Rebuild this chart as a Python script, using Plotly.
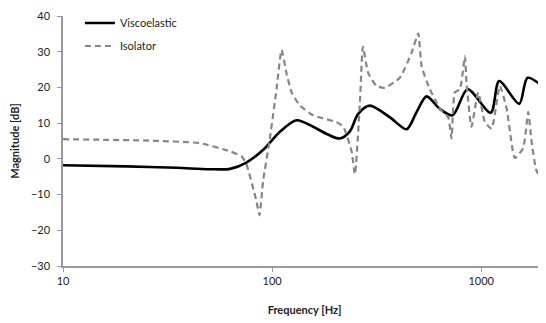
import plotly.graph_objects as go

# Viscoelastic (solid) curve
visco_f = [10, 20, 35, 50, 63, 75, 91, 109, 131, 157, 185, 211, 235, 258, 293,
           365, 440, 491, 548, 634, 730, 861, 1111, 1219, 1521, 1667, 2042]
visco_db = [-1.8, -2.1, -2.5, -2.9, -2.8, -1.1, 2.6, 7.6, 10.8, 9.0, 6.8, 5.7, 7.6, 12.6, 14.9,
            11.7, 8.3, 13.1, 17.5, 14.0, 12.2, 19.5, 12.9, 21.8, 15.4, 22.7, 19.5]

# Isolator (dashed) curve
iso_f = [10, 26, 45, 63, 71.5, 75, 84, 87, 90.6, 97.6, 105, 111, 117, 124, 136, 157, 203,
         219, 240, 249, 263, 272, 288, 316, 346, 408, 464, 500, 519, 568, 612, 634, 695,
         721, 748, 791, 836, 851, 899, 968, 1042, 1122, 1228, 1324, 1449, 1588, 1679,
         1742, 1841, 2018]
iso_db = [5.5, 5.1, 4.4, 2.1, 0.7, -1.1, -11.6, -15.8, -6.2, 5.7, 19.5, 30.5, 24.1, 18.6,
          14.9, 12.2, 10.3, 9.0, 2.1, -4.3, 15.8, 31.4, 24.1, 20.4, 19.9, 22.7, 29.6, 35.1,
          25.9, 19.5, 15.8, 14.0, 11.7, 5.7, 18.6, 19.5, 28.7, 21.3, 9.0, 18.6, 10.3, 8.5,
          20.4, 14.0, 0.25, 3.0, 13.1, 4.8, -3.4, -6.6]

y_ticks = [-30, -20, -10, 0, 10, 20, 30, 40]
x_ticks = [10, 100, 1000]

FONT = "Lato, 'Open Sans', sans-serif"

fig = go.Figure()
fig.add_trace(go.Scatter(
    x=visco_f, y=visco_db, mode="lines", name="Viscoelastic", legendgroup="a",
    line=dict(color="#000000", width=2.6, shape="spline", smoothing=0.8),
))
fig.add_trace(go.Scatter(
    x=iso_f, y=iso_db, mode="lines", name="Isolator", legendgroup="b",
    line=dict(color="#858585", width=2.2, dash="6px,4px", shape="spline", smoothing=0.5),
))

# page body has an 8px default margin, so the figure is sized to fill the window from (8, 8)
fig.update_layout(
    width=538, height=315,
    margin=dict(l=55, r=0, t=4, b=57),
    paper_bgcolor="white", plot_bgcolor="white",
    font=dict(family=FONT, size=11, color="#222222"),
    showlegend=True,
    legend=dict(x=0.035, y=1.03, xanchor="left", yanchor="top",
                bgcolor="rgba(0,0,0,0)", font=dict(size=11, color="#222222"),
                tracegroupgap=4, itemwidth=30),
    xaxis=dict(
        type="log", range=[1, 3.31], automargin=False,
        tickvals=x_ticks, ticktext=[str(v) for v in x_ticks],
        showgrid=False, zeroline=False,
        showline=True, linecolor="#9a9a9a", linewidth=1.5,
        ticks="outside", ticklen=4, tickcolor="#9a9a9a",
        tickfont=dict(size=11),
        title=dict(text="<b>Frequency [Hz]</b>", font=dict(size=11), standoff=20),
    ),
    yaxis=dict(
        range=[-30, 40], tickvals=y_ticks, automargin=False,
        showgrid=False, zeroline=False,
        showline=True, linecolor="#9a9a9a", linewidth=1.5,
        ticks="outside", ticklen=4, tickcolor="#9a9a9a", ticklabelstandoff=5,
        tickfont=dict(size=11),
        title=dict(text="<b>Magnitude [dB]</b>", font=dict(size=11), standoff=10),
    ),
)

fig.write_html("out.html")
